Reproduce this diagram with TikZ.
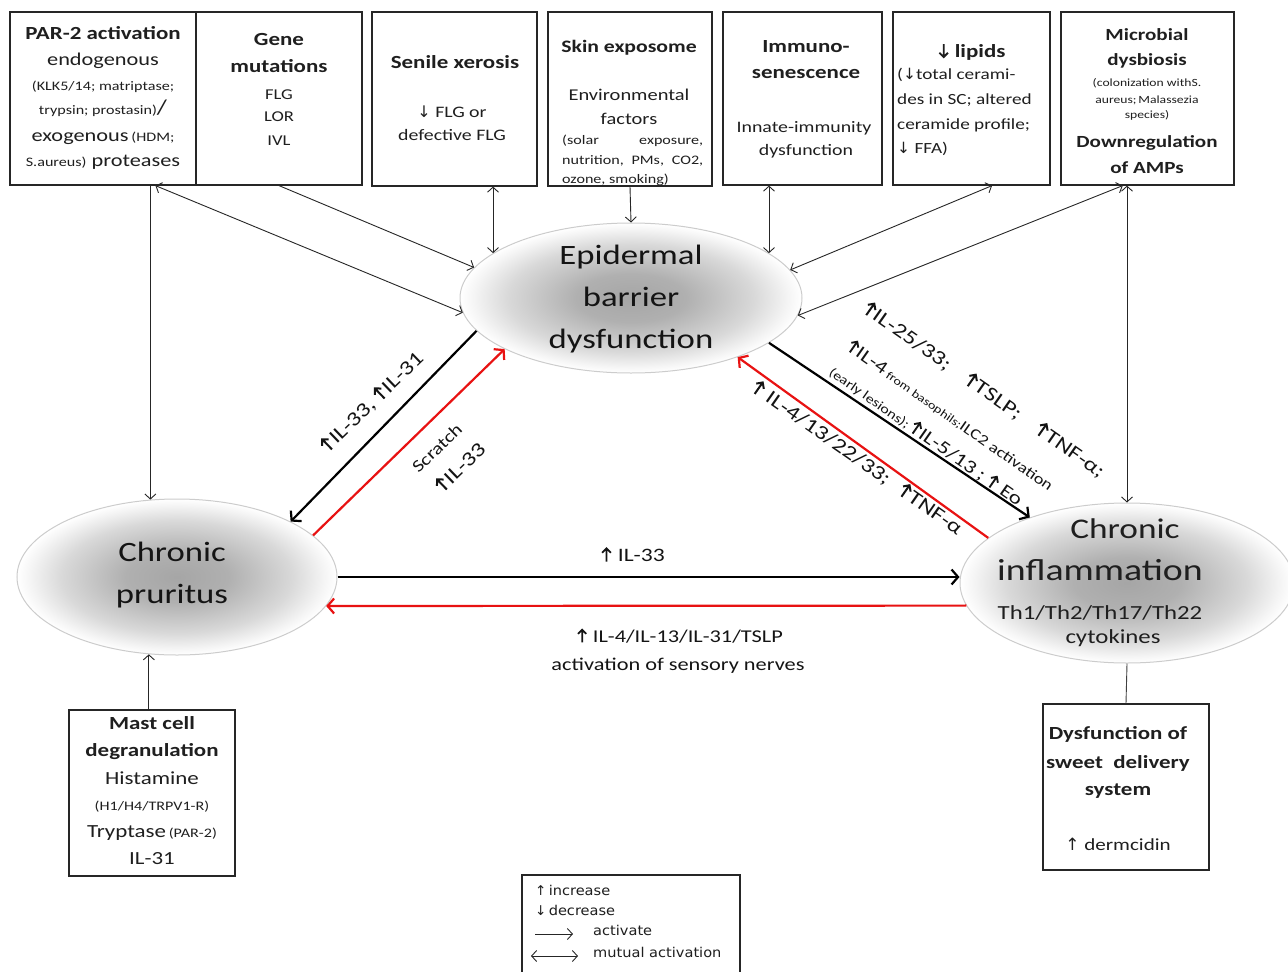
\documentclass[tikz,border=0pt]{standalone}
\usepackage{graphicx}
\usepackage{fontspec}
\setmainfont{Carlito}[FakeStretch=1.24]
\newfontfamily\arrfont{DejaVu Sans}
\newfontfamily\legfont{DejaVu Sans}[FakeStretch=1.08]
\usetikzlibrary{arrows.meta,shapes.geometric,calc}
\definecolor{arred}{RGB}{232,18,18}
\newcommand{\fs}[1]{\fontsize{#1}{#1}\selectfont}
\newcommand{\myup}{{\arrfont ↑}}
\newcommand{\mydn}{{\arrfont ↓}}
\newcommand{\myUp}{\tikz[x=1em,y=1em,baseline=0pt]{\draw[line width=0.1em,line join=miter] (0.3,0)--(0.3,0.7) (0.07,0.47)--(0.3,0.7)--(0.53,0.47);}\kern0.04em}
\newcommand{\myDn}{\tikz[x=1em,y=1em,baseline=0pt]{\draw[line width=0.1em,line join=miter] (0.3,0.72)--(0.3,0.02) (0.07,0.25)--(0.3,0.02)--(0.53,0.25);}\kern0.04em}
\pgfdeclareradialshading{ellshade}{\pgfpoint{0bp}{0bp}}{color(0bp)=(black!35); color(8bp)=(black!31); color(18bp)=(black!15); color(23bp)=(black!4); color(25bp)=(white); color(50bp)=(white)}
\newcommand{\mkbox}[5]{\node[box, minimum width={#4-#2}, minimum height={#5-#3}] (#1) at ({(#2+#4)/2},{(#3+#5)/2}) {};}
\tikzset{
  box/.style={draw=black!85, line width=1.2pt, rectangle, inner sep=0pt},
  ell/.style={ellipse, inner sep=0pt, shading=ellshade, draw=black!20, line width=1pt},
  t/.style={inner sep=0pt, anchor=mid, text=black!88},
  tl/.style={inner sep=0pt, anchor=mid west, text=black!88},
  lab/.style={inner sep=0pt, anchor=center, text=black!92},
  thin/.style={draw=black!85, line width=0.9pt, -{Straight Barb[length=5pt,width=11pt]}},
  thinb/.style={draw=black!85, line width=0.9pt, {Straight Barb[length=5pt,width=11pt]}-{Straight Barb[length=5pt,width=11pt]}},
  thick/.style={line width=2.2pt, -{Straight Barb[length=6.5pt,width=15pt]}},
}
\begin{document}
\begin{tikzpicture}[x=1pt,y=-1pt]
\useasboundingbox (0,0) rectangle (1288,972);
\fill[white] (0,0) rectangle (1288,972);

% ---------- boxes ----------
\mkbox{par}{10}{12}{196}{185}
\mkbox{gene}{196}{12}{362}{185}
\mkbox{sen}{372}{12}{537}{186}
\mkbox{exp}{548}{12}{712}{186}
\mkbox{imm}{723}{12}{882}{185}
\mkbox{lip}{893}{12}{1050}{185}
\mkbox{mic}{1061}{12}{1234}{185}
\mkbox{mast}{69}{710}{235}{876}
\mkbox{dys}{1043}{704}{1209}{870}
\mkbox{leg}{522}{875}{740}{985}

% PAR-2
\node[t, font=\fs{18.5}\bfseries] (p1) at (103,37) {PAR-2 activation};
\node[t, font=\fs{18}] (p2) at (103,63) {endogenous};
\node[t, font=\fs{13}] (p3) at (103,88) {(KLK5/14; matriptase;};
\node[t] (p4) at (103,112) {{\fs{13}trypsin; prostasin)}{\fs{21}/}};
\node[t] (p5) at (103,139) {{\fs{18}exogenous} {\fs{13}(HDM;}};
\node[t] (p6) at (103,164) {{\fs{13}S.aureus)}{\fs{18} proteases}};
% Gene
\node[t, font=\fs{18.5}\bfseries] (g1) at (279,43) {Gene};
\node[t, font=\fs{18.5}\bfseries] (g2) at (279,70) {mutations};
\node[t, font=\fs{15}] (g3) at (279,97) {FLG};
\node[t, font=\fs{15}] (g4) at (279,119) {LOR};
\node[t, font=\fs{15}] (g5) at (279,143) {IVL};
% Senile
\node[t, font=\fs{18.5}\bfseries] (s1) at (455,66) {Senile xerosis};
\node[t, font=\fs{16}] (s2) at (452,115) {\mydn\ FLG or};
\node[t, font=\fs{16}] (s3) at (452,138) {defective FLG};
% Exposome
\node[t, font=\fs{17.5}\bfseries] (e1) at (629,50) {Skin exposome};
\node[t, font=\fs{16.5}] (e2) at (629,98) {Environmental};
\node[t, font=\fs{16.5}] (e3) at (629,122) {factors};
\node[tl, font=\fs{13}] (e4) at (562,142) {\makebox[141pt][s]{(solar exposure,}};
\node[tl, font=\fs{13}] (e5) at (562,162) {\makebox[141pt][s]{nutrition, PMs, CO2,}};
\node[tl, font=\fs{13}] (e6) at (562,181) {ozone, smoking)};
% Immuno
\node[t, font=\fs{18.5}\bfseries] (i1) at (806,50) {Immuno-};
\node[t, font=\fs{18.5}\bfseries] (i2) at (806,76) {senescence};
\node[t, font=\fs{16}] (i3) at (804,130) {Innate-immunity};
\node[t, font=\fs{16}] (i4) at (806,153) {dysfunction};
% Lipids
\node[t, font=\fs{18.5}\bfseries] (q1) at (972,55) {\myDn\ lipids};
\node[tl, font=\fs{15.5}] (q2) at (897,77) {(\mydn total cerami-};
\node[tl, font=\fs{15.5}] (q3) at (897,102) {des in SC; altered};
\node[tl, font=\fs{15.5}] (q4) at (897,127) {ceramide profile;};
\node[tl, font=\fs{15.5}] (q5) at (897,151) {\mydn\ FFA)};
% Microbial
\node[t, font=\fs{17}\bfseries] (m1) at (1147,38) {Microbial};
\node[t, font=\fs{17}\bfseries] (m2) at (1147,63) {dysbiosis};
\node[t, font=\fs{11}] (m3) at (1147,84) {(colonization withS.};
\node[t, font=\fs{11}] (m4) at (1147,101) {aureus;\,Malassezia};
\node[t, font=\fs{11}] (m5) at (1147,116) {species)};
\node[t, font=\fs{17}\bfseries] (m6) at (1147,145) {Downregulation};
\node[t, font=\fs{17}\bfseries] (m7) at (1147,171) {of AMPs};
% Mast cell
\node[t, font=\fs{18.5}\bfseries] (c1) at (152,727) {Mast cell};
\node[t, font=\fs{18.5}\bfseries] (c2) at (152,754) {degranulation};
\node[t, font=\fs{18.5}] (c3) at (152,782) {Histamine};
\node[t, font=\fs{13}] (c4) at (152,808) {(H1/H4/TRPV1-R)};
\node[t] (c5) at (152,835) {{\fs{18.5}Tryptase} {\fs{13}(PAR-2)}};
\node[t, font=\fs{18.5}] (c6) at (152,862) {IL-31};
% Dysfunction
\node[t, font=\fs{18.5}\bfseries] (d1) at (1118,737) {Dysfunction of};
\node[t, font=\fs{18.5}\bfseries] (d2) at (1118,766) {sweet\ \ delivery};
\node[t, font=\fs{18.5}\bfseries] (d3) at (1118,793) {system};
\node[t, font=\fs{17}] (d4) at (1118,848) {\myup\ dermcidin};

% ---------- ellipses ----------
\node[ell, minimum width=342, minimum height=150] (epi) at (631,298) {};
\node[ell, minimum width=320, minimum height=156] (pru) at (177,577) {};
\node[ell, minimum width=334, minimum height=160] (inf) at (1127,583) {};
\node[lab, align=center, font=\fontsize{28}{42}\selectfont] (epiT) at (631,299) {Epidermal\\barrier\\dysfunction};
\node[lab, align=center, font=\fontsize{28}{42}\selectfont] (pruT) at (172,575) {Chronic\\pruritus};
\node[t, font=\fs{28.5}] (inf1) at (1125,536) {Chronic};
\node[t, font=\fs{30.5}] (inf2) at (1100,578) {inflammation};
\node[t, font=\fs{20}] (inf3) at (1100,617) {Th1/Th2/Th17/Th22};
\node[t, font=\fs{20}] (inf4) at (1113,641) {cytokines};

% ---------- connectors ----------
\draw[thin] (pru.109.3 |- par.south) -- (pru.109.3);
\draw[thinb] ($(par.south west)!0.78!(par.south east)$) -- (epi.185.6);
\draw[thin] (gene.south) -- (epi.169);
\draw[thinb] (epi.162.5 |- sen.south) -- (epi.162.5);
\draw[thin] (exp.south) -- (epi.north);
\draw[thinb] (epi.18.1 |- imm.south) -- (epi.18.1);
\draw[thinb] ($(lip.south west)!0.63!(lip.south east)$) -- (epi.10.7);
\draw[thinb] ($(mic.south west)!0.358!(mic.south east)$) -- (epi.354.4);
\draw[thinb] (inf.north |- mic.south) -- (inf.north);
\draw[thick] (epi.192.7) -- (pru.26.6);
\draw[thick, arred] (pru.17.3) -- (epi.202.8);
\draw[thick] (epi.342.5) -- (inf.146.6);
\draw[thick, arred] (inf.162.3) -- (epi.331);
\draw[thick] (pru.east) -- (pru.east -| inf.west);
\draw[thick, arred] (inf.188.2) -- (pru.349);
\draw[thin] (pru.250.7 |- mast.north) -- (pru.250.7);
\draw[draw=black!75, line width=0.9pt] (dys.north) -- (inf.south);

% ---------- connector labels ----------
\node[lab, rotate=44, font=\fs{20}] (l1) at (372,402) {\myUp IL-33, \myUp IL-31};
\node[lab, rotate=44, font=\fs{17}] (l2) at (437,448) {Scratch};
\node[lab, rotate=44, font=\fs{20}] (l3) at (460,467) {\myUp IL-33};
\node[lab, rotate=-35, font=\fs{20}] (r1) at (984,390) {\makebox[290pt]{\myUp IL-25/33;\hfill\myUp TSLP;\hfill\myUp TNF-α;}};
\node[lab, rotate=-35] (r2) at (950.5,415.5) {{\fs{18.5}\myUp IL-4}{\fs{11.5} from basophils;}{\fs{15}ILC2 activation}};
\node[lab, rotate=-35] (r3) at (926,436) {{\fs{13}(early lesions);} {\fs{18.5}\myUp IL-5/13 ; \myUp\ Eo}};
\node[lab, rotate=-35, font=\fs{20}] (r4) at (857,458) {\myUp\ IL-4/13/22/33;\hspace{14pt}\myUp TNF-α};
\node[lab, font=\fs{19}] (h1) at (633,555) {\myUp\ IL-33};
\node[lab, font=\fs{18}] (h2) at (680,636) {\myUp\ IL-4/IL-13/IL-31/TSLP};
\node[lab, font=\fs{18}] (h3) at (678,666) {activation of sensory nerves};

% ---------- legend ----------
\node[tl, font=\legfont\fs{13.5}] (li) at (535,893) {{\arrfont ↑}\,increase};
\node[tl, font=\legfont\fs{13.5}] (ld) at (535,913) {{\arrfont ↓}\,decrease};
\coordinate (a1) at (535,934);
\coordinate (a2) at (573,934);
\draw[thin] (a1) -- (a2);
\node[tl, font=\legfont\fs{13.5}] (la) at (593,933) {activate};
\coordinate (b1) at (531,956);
\coordinate (b2) at (578,956);
\draw[thinb] (b1) -- (b2);
\node[tl, font=\legfont\fs{13.5}] (lm) at (593,955) {mutual activation};
\end{tikzpicture}
\end{document}
